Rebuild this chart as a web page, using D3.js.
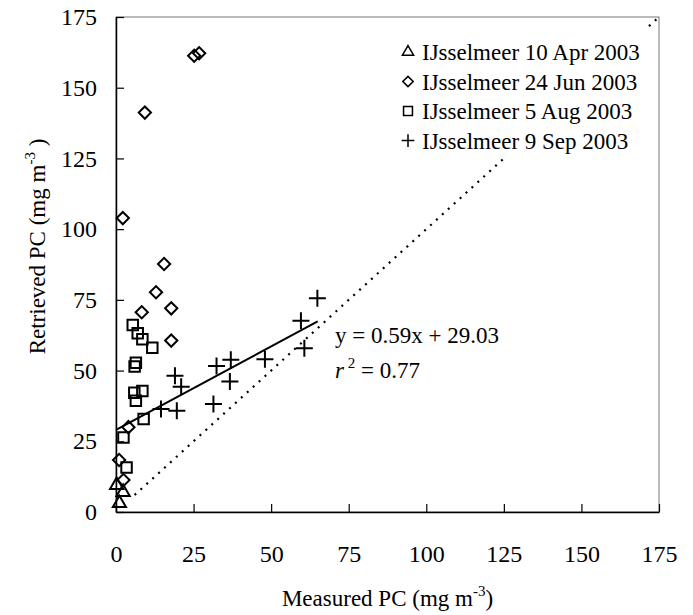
<!DOCTYPE html>
<html>
<head>
<meta charset="utf-8">
<script src="https://cdn.jsdelivr.net/npm/d3@7"></script>
<style>
  body { margin: 0; background: #fff; }
  text { font-family: "Liberation Serif", "Times New Roman", serif; fill: #000; }
</style>
</head>
<body>
<div id="container"></div>
<script>
/* CONSTANTS AND GLOBALS */
const width = 693,
  height = 615,
  margin = { top: 17, bottom: 103, left: 116, right: 34 }

// data, [measured, retrieved]
const apr10 = [[0.2, 9.5], [2.3, 7.0], [1.1, 3.1]]
const jun24 = [[25.2, 161.3], [26.8, 162.2], [9.3, 141.2], [2.2, 103.9], [15.5, 87.7],
  [12.9, 77.7], [8.3, 70.6], [17.8, 72.0], [17.8, 60.6], [4.0, 30.0], [1.0, 18.4], [2.4, 11.3]]
const aug5 = [[5.4, 66.1], [7.0, 63.2], [8.5, 61.1], [11.7, 58.1], [6.4, 52.8], [6.0, 51.4],
  [8.5, 42.8], [5.9, 42.2], [6.4, 39.3], [8.9, 32.9], [2.4, 26.3], [3.4, 15.7]]
const sep9 = [[64.9, 75.6], [59.6, 67.6], [60.7, 57.9], [48.0, 54.0], [37.0, 53.8], [32.4, 51.6],
  [36.7, 46.1], [31.4, 38.2], [19.0, 48.2], [21.0, 44.3], [14.5, 36.4], [19.6, 35.8]]

const legendLabels = ["IJsselmeer 10 Apr 2003", "IJsselmeer 24 Jun 2003",
  "IJsselmeer 5 Aug 2003", "IJsselmeer 9 Sep 2003"]
const tickVals = [0, 25, 50, 75, 100, 125, 150, 175]
const fit = { slope: 0.59, intercept: 29.03, from: 0, to: 65 }
const oneToOne = [6, 175]

// + SCALES
const xScale = d3.scaleLinear()
  .domain([0, 175])
  .range([margin.left, width - margin.right]) // 116 -> 659
const yScale = d3.scaleLinear()
  .domain([0, 175])
  .range([height - margin.bottom, margin.top]) // 512 -> 17

// CREATE SVG ELEMENT
const svg = d3.select("#container")
  .append("svg")
  .attr("width", width)
  .attr("height", height)

// frame (top/right grey)
svg.append("rect")
  .attr("x", xScale(0)).attr("y", yScale(175))
  .attr("width", xScale(175) - xScale(0))
  .attr("height", yScale(0) - yScale(175))
  .attr("fill", "none").attr("stroke", "#777").attr("stroke-width", 1)

// BUILD AND CALL AXES
const xAxis = d3.axisBottom(xScale).tickValues(tickVals).tickSizeInner(-8).tickSizeOuter(0)
const gx = svg.append("g")
  .attr("class", "xAxis")
  .attr("transform", `translate(0,${yScale(0)})`)
  .call(xAxis)
gx.selectAll("text").attr("y", 50).attr("dy", 0).style("font-size", "24px")

const yAxis = d3.axisLeft(yScale).tickValues(tickVals).tickSizeInner(-8).tickSizeOuter(0).tickPadding(19)
const gy = svg.append("g")
  .attr("class", "yAxis")
  .attr("transform", `translate(${xScale(0)},0)`)
  .call(yAxis)
gy.selectAll("text").style("font-size", "24px")

svg.selectAll(".domain").attr("stroke", "#000").attr("stroke-width", 1.5)
svg.selectAll(".tick line").attr("stroke", "#000").attr("stroke-width", 1.2)
svg.selectAll(".tick text").attr("font-family", null)

// 1:1 dotted line
svg.append("line")
  .attr("x1", xScale(oneToOne[0])).attr("y1", yScale(oneToOne[0]))
  .attr("x2", xScale(oneToOne[1])).attr("y2", yScale(oneToOne[1]))
  .attr("stroke", "#000").attr("stroke-width", 2.2)
  .attr("stroke-dasharray", "2,6")

// regression line
svg.append("line")
  .attr("x1", xScale(fit.from)).attr("y1", yScale(fit.intercept + fit.slope * fit.from))
  .attr("x2", xScale(fit.to)).attr("y2", yScale(fit.intercept + fit.slope * fit.to))
  .attr("stroke", "#000").attr("stroke-width", 2)

// marker shapes
const tri = d3.symbol().type(d3.symbolTriangle).size(75)
const sq = d3.symbol().type(d3.symbolSquare).size(110)
const dia = d3.symbol().type(d3.symbolSquare).size(75)
const plus = s => `M${-s},0H${s}M0,${-s}V${s}`

function drawSet(data, cls, pathFn, rot) {
  svg.selectAll("." + cls)
    .data(data)
    .join("path")
    .attr("class", cls)
    .attr("d", pathFn)
    .attr("transform", d => `translate(${xScale(d[0])},${yScale(d[1])})` + (rot ? " rotate(45)" : ""))
    .attr("fill", "none")
    .attr("stroke", "#000")
    .attr("stroke-width", 2)
}
drawSet(jun24, "dia", dia(), true)
drawSet(aug5, "sq", sq(), false)
drawSet(apr10, "tri", tri(), false)
drawSet(sep9, "plus", plus(8.5), false)

// legend (white box hides the 1:1 line behind it)
svg.append("rect")
  .attr("x", 396).attr("y", 28).attr("width", 256).attr("height", 129)
  .attr("fill", "#fff")
const legendShapes = [[tri(), false], [dia(), true], [sq(), false], [plus(7.5), false]]
const leg = svg.append("g").attr("transform", "translate(408,52)")
legendLabels.forEach((lab, i) => {
  const row = leg.append("g").attr("transform", `translate(0,${i * 29.5})`)
  row.append("path")
    .attr("d", legendShapes[i][0])
    .attr("transform", legendShapes[i][1] ? "rotate(45) scale(0.85)" : "scale(0.85)")
    .attr("fill", "none").attr("stroke", "#000").attr("stroke-width", 1.8)
  row.append("text")
    .attr("x", 14).attr("y", 8)
    .style("font-size", "23px")
    .text(lab)
})

// equation
svg.append("text")
  .attr("x", 335).attr("y", 343)
  .style("font-size", "23px")
  .text("y = 0.59x + 29.03")
const r2 = svg.append("text")
  .attr("x", 335).attr("y", 378)
  .style("font-size", "23px")
r2.append("tspan").style("font-style", "italic").text("r")
r2.append("tspan").attr("dy", -10).style("font-size", "15px").text(" 2")
r2.append("tspan").attr("dy", 10).text(" = 0.77")

// axis titles
const xt = svg.append("text")
  .attr("x", (xScale(0) + xScale(175)) / 2).attr("y", 606)
  .attr("text-anchor", "middle")
  .style("font-size", "23px")
xt.append("tspan").text("Measured PC (mg m")
xt.append("tspan").attr("dy", -10).style("font-size", "15px").text("-3")
xt.append("tspan").attr("dy", 10).text(")")

const yt = svg.append("text")
  .attr("transform", `translate(45,${(yScale(0) + yScale(175)) / 2 - 18}) rotate(-90)`)
  .attr("text-anchor", "middle")
  .style("font-size", "23px")
yt.append("tspan").text("Retrieved PC (mg m")
yt.append("tspan").attr("dy", -10).style("font-size", "15px").text("-3")
yt.append("tspan").attr("dy", 10).text(" )")
</script>
</body>
</html>
